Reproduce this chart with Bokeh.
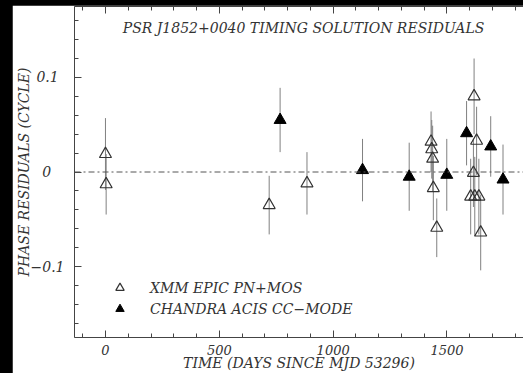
from bokeh.plotting import figure
from bokeh.models import (Range1d, LinearAxis, FixedTicker, Label, Legend, LegendItem,
                          Span, GlobalInlineStyleSheet)
from bokeh.embed import file_html
from bokeh.resources import INLINE

# ---- data ----
xmm_day = [0, 3, 719, 885, 1430, 1433, 1437, 1440, 1455, 1604, 1616, 1619, 1622, 1630, 1640, 1648]
xmm_res = [0.019, -0.013, -0.035, -0.012, 0.032, 0.024, 0.014, -0.017, -0.059,
           -0.026, -0.001, 0.080, -0.026, 0.033, -0.026, -0.064]
xmm_err = [0.038, 0.032, 0.031, 0.033, 0.032, 0.031, 0.035, 0.034, 0.031,
           0.040, 0.036, 0.040, 0.042, 0.036, 0.040, 0.040]

chandra_day = [767, 1129, 1334, 1499, 1586, 1692, 1746]
chandra_res = [0.055, 0.002, -0.005, -0.003, 0.041, 0.027, -0.008]
chandra_err = [0.034, 0.033, 0.036, 0.038, 0.034, 0.032, 0.037]

x_major = [0, 500, 1000, 1500]
x_minor = list(range(-100, 1900, 100))
y_major = [-0.1, 0.0, 0.1]
y_minor = [round(-0.16 + 0.02 * i, 2) for i in range(17)]
# labels padded on the right so that they look centred like the reference
y_tick_labels = ["\u22120.1", "0\u2007\u2008", "0.1\u2008\u200a"]

FONT = "DejaVu Serif"
TXT = "#333333"
AX = "#444444"
FS = "14px"

p = figure(width=511, height=368, output_backend="svg", toolbar_location=None,
           x_range=Range1d(-136, 1836), y_range=Range1d(-0.175, 0.175),
           x_axis_location=None, y_axis_location=None,
           min_border_left=61, min_border_right=0, min_border_top=1, min_border_bottom=36)
p.outline_line_color = None
p.xgrid.grid_line_color = None
p.ygrid.grid_line_color = None
p.background_fill_color = "white"
p.border_fill_color = "white"
p.stylesheets = [GlobalInlineStyleSheet(
    css="html,body{background:#000;margin:0;overflow:hidden;} body{padding:5px 0 0 12px;}")]


def style(ax):
    ax.axis_line_color = AX
    ax.major_tick_line_color = AX
    ax.minor_tick_line_color = AX
    ax.major_tick_in = 7
    ax.major_tick_out = 0
    ax.minor_tick_in = 4
    ax.minor_tick_out = 0
    ax.major_label_text_font = FONT
    ax.major_label_text_font_style = "italic"
    ax.major_label_text_color = TXT
    ax.major_label_text_font_size = FS
    ax.axis_label_text_font = FONT
    ax.axis_label_text_font_style = "italic"
    ax.axis_label_text_color = TXT
    ax.axis_label_text_font_size = FS


xb = LinearAxis(ticker=FixedTicker(ticks=x_major, minor_ticks=x_minor),
                axis_label="TIME (DAYS SINCE MJD 53296)")
style(xb)
xb.major_label_text_font_size = "13px"
xb.major_label_standoff = 7
xb.axis_label_standoff = -3
p.add_layout(xb, "below")

# top axis: ticks only (no major ticks -> no labels); two layers for two tick lengths
xt1 = LinearAxis(ticker=FixedTicker(ticks=[], minor_ticks=x_minor))
style(xt1)
xt1.major_label_standoff = 0
p.add_layout(xt1, "above")
xt2 = LinearAxis(ticker=FixedTicker(ticks=[], minor_ticks=x_major))
style(xt2)
xt2.minor_tick_in = 7
xt2.major_label_standoff = 0
xt2.axis_line_color = None
p.add_layout(xt2, "above")

yl = LinearAxis(ticker=FixedTicker(ticks=y_major, minor_ticks=y_minor),
                axis_label="PHASE RESIDUALS (CYCLE)")
style(yl)
yl.major_label_overrides = {v: t for v, t in zip(y_major, y_tick_labels)}
yl.major_label_standoff = 10
yl.axis_label_standoff = -4
p.add_layout(yl, "left")

# zero line
p.add_layout(Span(location=0, dimension="width", line_color="#555555",
                  line_dash="6 3 2 3", line_width=1))

# error bars
p.segment(x0=xmm_day, y0=[r - e for r, e in zip(xmm_res, xmm_err)],
          x1=xmm_day, y1=[r + e for r, e in zip(xmm_res, xmm_err)],
          line_color="#808080", line_width=1)
p.segment(x0=chandra_day, y0=[r - e for r, e in zip(chandra_res, chandra_err)],
          x1=chandra_day, y1=[r + e for r, e in zip(chandra_res, chandra_err)],
          line_color="#808080", line_width=1)

r1 = p.scatter(xmm_day, xmm_res, marker="triangle", size=12, fill_color=None,
               line_color="#333333", line_width=1.2)
r2 = p.scatter(chandra_day, chandra_res, marker="triangle", size=12, fill_color="black",
               line_color="black", line_width=1)

legend = Legend(items=[LegendItem(label="XMM EPIC PN+MOS", renderers=[r1]),
                       LegendItem(label="CHANDRA ACIS CC\u2212MODE", renderers=[r2])],
                location=(34, 18), padding=0, margin=0, spacing=0,
                glyph_width=23, glyph_height=21, label_height=21, label_standoff=19,
                background_fill_alpha=0, border_line_color=None,
                label_text_font=FONT, label_text_font_style="italic",
                label_text_font_size=FS, label_text_color=TXT)
p.add_layout(legend)

p.add_layout(Label(x=870, y=0.152, text="PSR J1852+0040 TIMING SOLUTION RESIDUALS",
                   text_align="center", text_baseline="middle",
                   text_font=FONT, text_font_style="italic", text_font_size=FS,
                   text_color=TXT))

open("out.html", "w").write(file_html(p, INLINE))
